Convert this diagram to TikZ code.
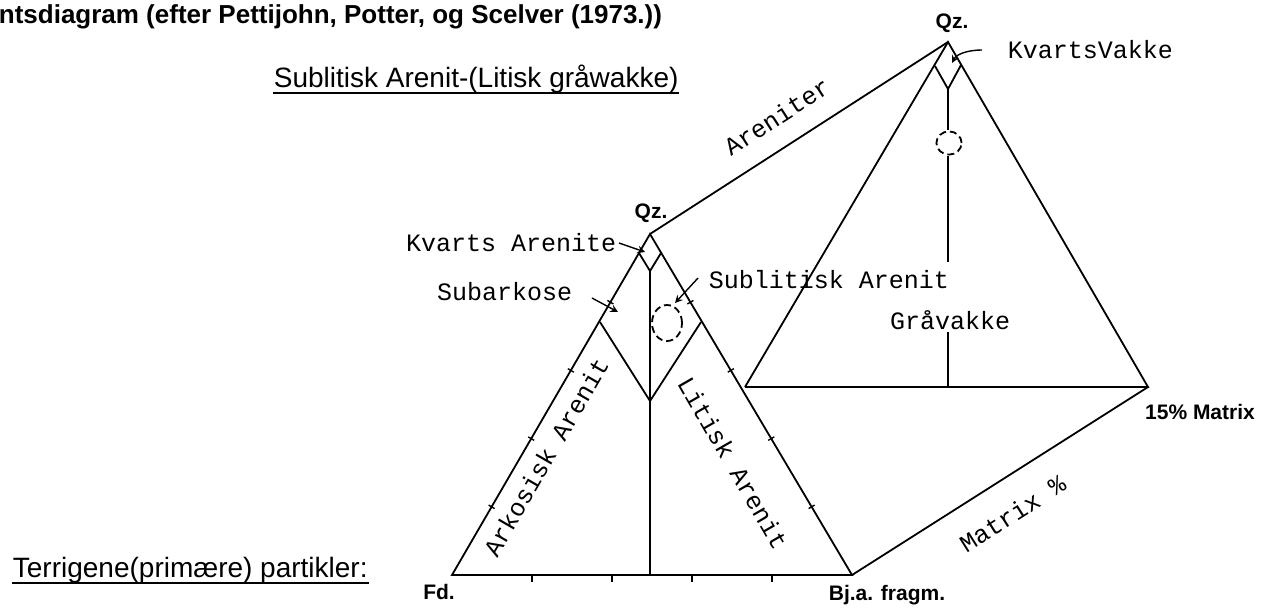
\documentclass[tikz,border=0pt]{standalone}
\usepackage{fontspec}
\setmainfont{Liberation Sans}
\setmonofont{Liberation Mono}
\usetikzlibrary{calc}

\tikzset{
  tw/.style={font=\ttfamily\fontsize{12.5}{14}\selectfont, inner sep=1pt},
  corner/.style={font=\bfseries\fontsize{10.5}{12}\selectfont, inner sep=1pt},
  heading/.style={font=\fontsize{14}{16}\selectfont, inner sep=0pt},
  zone/.style={dash pattern=on 3.5pt off 2pt},
  pointer/.style={->, line width=0.7pt}
}

\begin{document}
\begin{tikzpicture}[x=0.5pt, y=-0.5pt, line width=0.9pt, >=stealth]
    \useasboundingbox (0,0) rectangle (1267,607);
    % Headings
    \node[heading, font=\bfseries\fontsize{13}{15}\selectfont, anchor=base west] (title) at (-2,23) {ntsdiagram (efter Pettijohn, Potter, og Scelver (1973.))};
    \node[heading, anchor=base west] (sub) at (273,87) {Sublitisk Arenit-(Litisk gråwakke)};
    \node[heading, anchor=base west] (terr) at (12,577) {Terrigene(primære) partikler:};
    \draw[line width=0.8pt] ([yshift=-3pt]sub.base west) -- ([yshift=-3pt]sub.base east);
    \draw[line width=0.8pt] ([yshift=-3pt]terr.base west) -- ([yshift=-3pt]terr.base east);
    % Corners
    \coordinate (Fd) at (452,575);
    \coordinate (Bj) at (852,575);
    \coordinate (Qf) at (650,234);
    \coordinate (Qb) at (948,42);
    \coordinate (Lb) at (745,387);
    \coordinate (Mx) at (1148,387);
    \node[corner] (qfl) at (651,213) {Qz.};
    \node[corner] (qbl) at (952,23) {Qz.};
    \node[corner] (fdl) at (439,592) {Fd.};
    \node[corner] (bjl) at (887,595) {Bj.a. fragm.};
    \node[corner] (mxl) at (1200,412) {15\% Matrix};
    % Back triangle
    \draw (Qf) -- (Qb) node[tw, pos=0.48, above=9pt, sloped] (aren) {Areniter};
    \draw (Bj) -- (Mx) node[tw, pos=0.48, below=11pt, sloped] (matx) {Matrix \%};
    \draw (Lb) -- (Qb) -- (Mx) -- (Lb);
    \coordinate (bdl) at (935,66);
    \coordinate (bdb) at (948,89);
    \coordinate (bdr) at (961,65);
    \draw (bdl) -- (bdb) -- (bdr);
    \coordinate (bc) at (949,143);
    \draw[zone] (bc) ellipse [x radius=6.3pt, y radius=5.8pt];
    \draw (bdb) -- (948,130);
    \draw (948,156) -- (948,262);
    \draw (948,332) -- (948,387);
    % Front triangle
    \draw (Fd) -- (Bj) -- (Qf) -- cycle;
    \coordinate (fdl1) at (639,253);
    \coordinate (fdb) at (650,271);
    \coordinate (fdr) at (661,253);
    \draw (fdl1) -- (fdb) -- (fdr);
    \coordinate (vl) at (600,322);
    \coordinate (vb) at (650,401);
    \coordinate (vr) at (701,322);
    \draw (vl) -- (vb) -- (vr);
    \draw (fdb) -- (650,575);
    \coordinate (fc) at (667,323);
    \draw[zone] (fc) ellipse [x radius=7.5pt, y radius=9pt];
    % Ticks
    \foreach \t in {0.2,0.4,0.6,0.8} {
        \draw[line width=0.7pt] ($(Fd)!\t!(Bj)$) -- ++(0,7);
        \draw[line width=0.7pt] ($(Fd)!\t!(Qf)$) ++(3,1.75) -- ++(-6,-3.5);
        \draw[line width=0.7pt] ($(Qf)!\t!(Bj)$) ++(3,-1.75) -- ++(-6,3.5);
    }
    % Field names
    \node[tw, rotate=60] (ark) at (546,457) {Arkosisk Arenit};
    \node[tw, rotate=-60] (lit) at (733,463) {Litisk Arenit};
    \node[tw] (grv) at (950,320) {Gråvakke};
    \node[tw, anchor=west] (sla) at (706,280) {Sublitisk Arenit};
    \node[tw, anchor=east] (kva) at (619,243) {Kvarts Arenite};
    \node[tw, anchor=east] (sbk) at (575,292) {Subarkose};
    \node[tw, anchor=west] (kvv) at (1005,50) {KvartsVakke};
    % Pointers
    \coordinate (kvah) at (645,252);
    \coordinate (sbkt) at (592,298);
    \coordinate (sbkh) at (618,312);
    \coordinate (slat) at (698,278);
    \coordinate (slah) at (675,303);
    \coordinate (kvvt) at (982,50);
    \coordinate (kvvh) at (952,63);
    \draw[pointer] (kva.east) -- (kvah);
    \draw[pointer] (sbkt) -- (sbkh);
    \draw[pointer] (slat) -- (slah);
    \draw[pointer] (kvvt) .. controls (966,50) and (956,55) .. (kvvh);
\end{tikzpicture}
\end{document}
